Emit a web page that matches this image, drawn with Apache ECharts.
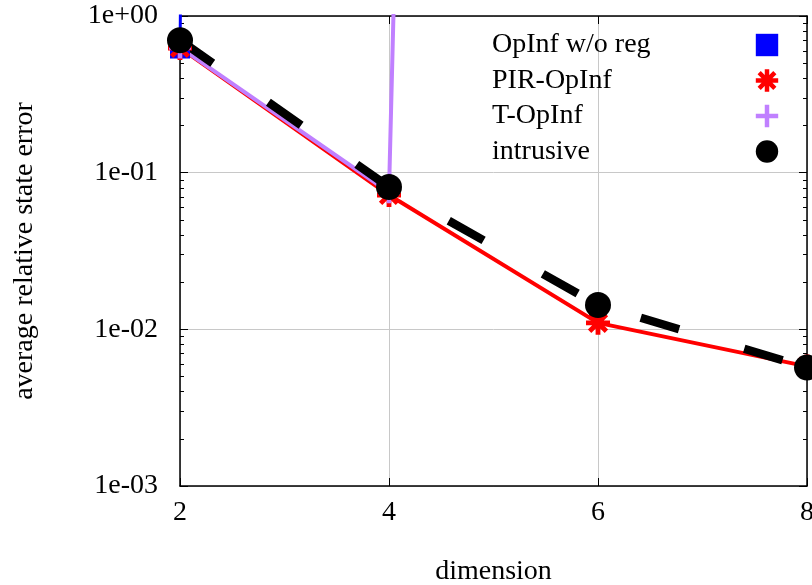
<!DOCTYPE html>
<html>
<head>
<meta charset="utf-8">
<script src="https://cdn.jsdelivr.net/npm/echarts@6/dist/echarts.min.js"></script>
<style>
html,body{margin:0;padding:0;background:#fff;}
#c{width:812px;height:585px;}
</style>
</head>
<body>
<div id="c"></div>
<script>
// ---- data ----
const dims = [2, 4, 6, 8];
const seriesNames = ['OpInf w/o reg', 'PIR-OpInf', 'T-OpInf', 'intrusive'];
const opinfWoReg = [0.62, 1e120, 1e150, 1e180];
const pirOpinf = [0.625, 0.072, 0.011, 0.0058];
const tOpinf = [0.63, 0.075, 1e52, 1e70];
const intrusive = [0.70, 0.081, 0.0143, 0.0057];
const xTicks = [2, 4, 6, 8];
const yMajorTicks = [0.001, 0.01, 0.1, 1];
const yMinorTicks = [0.002,0.003,0.004,0.005,0.006,0.007,0.008,0.009,
                     0.02,0.03,0.04,0.05,0.06,0.07,0.08,0.09,
                     0.2,0.3,0.4,0.5,0.6,0.7,0.8,0.9];

const FONT = '"Liberation Serif", "DejaVu Serif", serif';
const pairs = arr => dims.map((d, i) => [d, arr[i]]);
const fmtExp = v => {
  const e = Math.round(Math.log10(v));
  return '1e' + (e < 0 ? '-' : '+') + String(Math.abs(e)).padStart(2, '0');
};

const ASTERISK = 'path://M8,0L12,0L12,20L8,20Z M0,8L20,8L20,12L0,12Z ' +
  'M4.41,1.59L18.41,15.59L15.59,18.41L1.59,4.41Z M15.59,1.59L18.41,4.41L4.41,18.41L1.59,15.59Z';
const PLUS = 'path://M8,0L12,0L12,8L20,8L20,12L12,12L12,20L8,20L8,12L0,12L0,8L8,8Z';

const chart = echarts.init(document.getElementById('c'), null, {renderer: 'canvas'});

const axisLineStyle = {color: '#000', width: 1.5};
const baseY = {type: 'log', logBase: 10, min: 0.001, max: 1, gridIndex: 0};

chart.setOption({
  animation: false,
  backgroundColor: '#fff',
  grid: {left: 180, right: 5, top: 16, bottom: 99, containLabel: false, outerBoundsMode: 'none'},
  legend: {
    orient: 'vertical',
    left: 487,
    top: 26,
    align: 'right',
    itemWidth: 26,
    itemHeight: 28,
    itemGap: 7.5,
    data: seriesNames,
    formatter: n => '{a|' + n + '}',
    textStyle: {
      color: '#000', fontFamily: FONT, fontSize: 28,
      rich: {a: {width: 257, align: 'left', fontFamily: FONT, fontSize: 28, color: '#000'}}
    },
    lineStyle: {opacity: 0}
  },
  xAxis: [
    {
      type: 'value', min: 2, max: 8, interval: 2, position: 'bottom',
      name: 'dimension', nameLocation: 'middle', nameGap: 72,
      nameTextStyle: {fontFamily: FONT, fontSize: 28, color: '#000'},
      axisLine: {show: true, lineStyle: axisLineStyle},
      axisTick: {show: true, inside: true, length: 8, lineStyle: {color: '#000', width: 1}, customValues: xTicks},
      axisLabel: {fontFamily: FONT, fontSize: 28, color: '#000', margin: 13, customValues: xTicks},
      splitLine: {show: true, lineStyle: {color: '#c8c8c8', width: 1}}
    },
    {
      type: 'value', min: 2, max: 8, interval: 2, position: 'top',
      axisLine: {show: true, lineStyle: axisLineStyle},
      axisTick: {show: true, inside: true, length: 8, lineStyle: {color: '#000', width: 1}},
      axisLabel: {show: false},
      splitLine: {show: false}
    }
  ],
  yAxis: [
    Object.assign({}, baseY, {
      position: 'left',
      name: 'average relative state error', nameLocation: 'middle', nameGap: 141, nameRotate: 90,
      nameTextStyle: {fontFamily: FONT, fontSize: 28, color: '#000'},
      axisLine: {show: true, lineStyle: axisLineStyle},
      axisTick: {show: true, inside: true, length: 8, lineStyle: {color: '#000', width: 1}, customValues: yMajorTicks},
      axisLabel: {fontFamily: FONT, fontSize: 28, color: '#000', margin: 22, formatter: fmtExp, customValues: yMajorTicks},
      splitLine: {show: true, lineStyle: {color: '#c8c8c8', width: 1}}
    }),
    Object.assign({}, baseY, {
      position: 'right',
      axisLine: {show: true, lineStyle: axisLineStyle},
      axisTick: {show: true, inside: true, length: 8, lineStyle: {color: '#000', width: 1}, customValues: yMajorTicks},
      axisLabel: {show: false},
      splitLine: {show: false}
    }),
    Object.assign({}, baseY, {
      position: 'left',
      axisLine: {show: false},
      axisTick: {show: true, inside: true, length: 4, lineStyle: {color: '#000', width: 1}, customValues: yMinorTicks},
      axisLabel: {show: false},
      splitLine: {show: false}
    }),
    Object.assign({}, baseY, {
      position: 'right',
      axisLine: {show: false},
      axisTick: {show: true, inside: true, length: 4, lineStyle: {color: '#000', width: 1}, customValues: yMinorTicks},
      axisLabel: {show: false},
      splitLine: {show: false}
    })
  ],
  series: [
    {
      name: seriesNames[0], type: 'line', data: pairs(opinfWoReg), clip: true,
      symbol: 'rect', symbolSize: 20,
      itemStyle: {color: '#0000ff'},
      lineStyle: {color: '#0000ff', width: 3}
    },
    {
      name: seriesNames[1], type: 'line', data: pairs(pirOpinf), clip: true,
      symbol: ASTERISK, symbolSize: 24,
      itemStyle: {color: '#ff0000'},
      lineStyle: {color: '#ff0000', width: 4}
    },
    {
      name: seriesNames[2], type: 'line', data: pairs(tOpinf), clip: true,
      symbol: PLUS, symbolSize: 22,
      itemStyle: {color: '#c080ff'},
      lineStyle: {color: '#c080ff', width: 4}
    },
    {
      name: seriesNames[3], type: 'line', data: pairs(intrusive), clip: true,
      symbol: 'circle', symbolSize: 26,
      itemStyle: {color: '#000000'},
      lineStyle: {color: '#000000', width: 8.5, type: [40, 68]}
    }
  ]
});
</script>
</body>
</html>
